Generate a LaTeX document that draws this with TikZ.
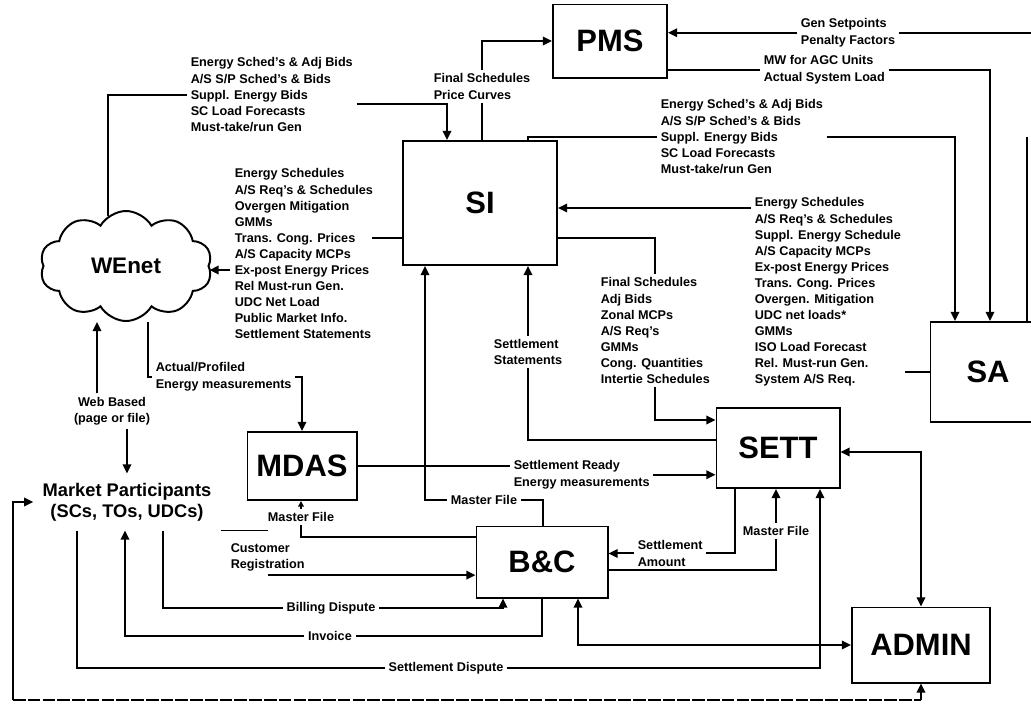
\documentclass[tikz,border=0pt]{standalone}
\usepackage{fontspec}
\setmainfont{Liberation Sans}
\usetikzlibrary{arrows.meta,shapes.symbols}

\begin{document}
\begin{tikzpicture}[x=0.025cm,y=-0.025cm,line width=1.4pt,>={Triangle[length=6.5pt,width=6pt]},
  blk/.style={draw,font=\fontsize{22}{24}\selectfont\bfseries},
  lbl/.style={font=\fontsize{9}{11.4}\selectfont\bfseries,align=left,inner sep=2pt},
  lblc/.style={lbl,align=center}]
\useasboundingbox (0,0) rectangle (1031,719);
% systems
\node[blk,minimum width=2.85cm,minimum height=1.825cm] (PMS) at (610,41) {PMS};
\node[blk,minimum width=3.85cm,minimum height=3.1cm] (SI) at (480,203) {SI};
\node[blk,minimum width=2.875cm,minimum height=2.5cm] (SA) at (988,372) {SA};
\node[blk,minimum width=3.075cm,minimum height=2cm] (SETT) at (778,448) {SETT};
\node[blk,minimum width=2.725cm,minimum height=1.7cm] (MDAS) at (302,466) {MDAS};
\node[blk,minimum width=3.275cm,minimum height=1.775cm] (BC) at (542,562) {B\&C};
\node[blk,minimum width=3.45cm,minimum height=1.875cm] (ADMIN) at (921,645) {ADMIN};
\node[draw,cloud,cloud puffs=10,cloud puff arc=120,aspect=1.6,minimum width=4.3cm,minimum height=2.75cm,
  font=\fontsize{16}{18}\selectfont\bfseries] (WEnet) at (126,266) {WEnet};
\node[font=\fontsize{13}{15}\selectfont\bfseries,align=center,inner sep=6pt] (MP) at (127,502)
  {Market Participants\\(SCs, TOs, UDCs)};

% WEnet -> SI
\node[lbl,anchor=north west] (wsched) at (187,54) {Energy Sched's \& Adj Bids\\A/S S/P Sched's \& Bids\\Suppl. Energy Bids\\SC Load Forecasts\\Must-take/run Gen};
\coordinate (siin) at (447,104);
\draw (WEnet.110) |- (wsched.west);
\draw[->] (wsched.east |- siin) -- (siin) -- (siin |- SI.north);

% SI -> PMS
\node[lbl,anchor=north west] (fsp) at (430,70) {Final Schedules\\Price Curves};
\draw (SI.north -| fsp.south) -- (fsp.south);
\draw[->] (fsp.north) |- (PMS.west);

% EMS side (cut off at the right edge)
\coordinate (ems) at (1031,33);
\coordinate (emsS) at (1027,137);
\node[lbl,anchor=north west] (gsp) at (797,15) {Gen Setpoints\\Penalty Factors};
\draw (gsp.east) -- (gsp.east -| ems);
\draw[->] (gsp.west) -- (gsp.west -| PMS.east);
\draw (emsS) -- (emsS |- SA.north);

% PMS -> SA
\node[lbl,anchor=north west] (mwagc) at (760,52) {MW for AGC Units\\Actual System Load};
\draw (PMS.east |- mwagc.west) -- (mwagc.west);
\draw[->] (mwagc.east) -| (990,0 |- SA.north);

% SI -> SA
\node[lbl,anchor=north west] (sched2) at (657,96) {Energy Sched's \& Adj Bids\\A/S S/P Sched's \& Bids\\Suppl. Energy Bids\\SC Load Forecasts\\Must-take/run Gen};
\draw (528,0 |- SI.north) |- (sched2.west);
\draw[->] (sched2.east) -| (955,0 |- SA.north);

% SA -> SI
\node[lbl,anchor=north west] (sched3) at (751,194) {Energy Schedules\\A/S Req's \& Schedules\\Suppl. Energy Schedule\\A/S Capacity MCPs\\Ex-post Energy Prices\\Trans. Cong. Prices\\Overgen. Mitigation\\UDC net loads*\\GMMs\\ISO Load Forecast\\Rel. Must-run Gen.\\System A/S Req.};
\coordinate (s3in) at ([yshift=-0.35cm]sched3.north west);
\draw[->] (s3in) -- (s3in -| SI.east);
\draw (SA.west) -- (SA.west -| sched3.east);

% SI -> WEnet
\node[lbl,anchor=north west] (pub) at (231,165) {Energy Schedules\\A/S Req's \& Schedules\\Overgen Mitigation\\GMMs\\Trans. Cong. Prices\\A/S Capacity MCPs\\Ex-post Energy Prices\\Rel Must-run Gen.\\UDC Net Load\\Public Market Info.\\Settlement Statements};
\coordinate (pubin) at (372,238);
\coordinate (pubout) at (230,270);
\draw (SI.west |- pubin) -- (pubin);
\draw[->] (pubout) -- (pubout -| WEnet.east);

% WEnet <-> market participants
\node[lblc] (web) at (112,411) {Web Based\\(page or file)};
\draw[->] (97,0 |- web.north) -- (WEnet.south -| 97,0);
\draw[->] (web.south -| MP.north) -- (MP.north);

% WEnet -> MDAS
\node[lbl,anchor=north west] (actp) at (152,359) {Actual/Profiled\\Energy measurements};
\draw (WEnet.south -| 148,0) |- (actp.west);
\draw[->] (actp.east) -| (MDAS.north);

% MDAS -> SETT
\node[lbl,anchor=north west] (srdy) at (510,457) {Settlement Ready\\Energy measurements};
\draw (MDAS.east) -- (MDAS.east -| srdy.west);
\draw[->] (srdy.east) -- (srdy.east -| SETT.west);

% SETT -> SI
\node[lbl] (sstm) at (528,352) {Settlement\\Statements};
\draw[->] (sstm.north) -- (sstm.north |- SI.south);
\coordinate (sst) at ([yshift=0.2cm]SETT.west);
\draw (sst) -| (sstm.south);

% SI -> SETT
\node[lbl,anchor=north west] (fsch) at (597,274) {Final Schedules\\Adj Bids\\Zonal MCPs\\A/S Req's\\GMMs\\Cong. Quantities\\Intertie Schedules};
\coordinate (sio) at ([yshift=-0.875cm]SI.east);
\draw (sio) -| (fsch.north);
\coordinate (sett1) at ([yshift=0.7cm]SETT.west);
\draw[->] (fsch.south) |- (sett1);

% SETT <-> ADMIN
\draw[<->] ([yshift=-0.1cm]SETT.east) -| (ADMIN.north);

% SETT <-> B&C
\node[lbl,anchor=north west] (samt) at (634,537) {Settlement\\Amount};
\draw (735,0 |- SETT.south) |- (samt.east);
\draw[->] (samt.west) -- (samt.west -| BC.east);
\node[lblc] (mf3) at (776,531) {Master File};
\coordinate (bco) at ([yshift=-0.2cm]BC.east);
\draw (bco) -| (mf3.south);
\draw[->] (mf3.north) -- (mf3.north |- SETT.south);

% B&C -> MDAS, B&C -> SI
\node[lblc] (mf1) at (301,517) {Master File};
\coordinate (bcw) at ([yshift=0.625cm]BC.west);
\draw (bcw) -| (mf1.south);
\draw[-{Triangle[length=4pt,width=4pt]}] (mf1.north) -- (mf1.north |- MDAS.south);
\node[lblc] (mf2) at (484,500) {Master File};
\draw (543,0 |- BC.north) |- (mf2.east);
\draw[->] (mf2.west) -| (425,0 |- SI.south);

% market participants <-> B&C, SETT, ADMIN
\node[lbl,anchor=north west] (cust) at (227,540) {Customer\\Registration};
\draw (MP.south east) -- (MP.south east -| cust.north);
\draw[->] (cust.south) -- (cust.south -| BC.west);
\node[lblc] (bill) at (331,608) {Billing Dispute};
\draw (163,0 |- MP.south) |- (bill.west);
\draw[->] (bill.east) -| (503,0 |- BC.south);
\node[lblc] (inv) at (330,636) {Invoice};
\draw[->] (inv.west) -| (125,0 |- MP.south);
\draw (542,0 |- BC.south) |- (inv.east);
\node[lblc] (sdis) at (446,668) {Settlement Dispute};
\draw (77,0 |- MP.south) |- (sdis.west);
\draw[->] (sdis.east) -| (820,0 |- SETT.south);
\draw[<->] (578,0 |- BC.south) |- (ADMIN.west);

% ADMIN <-> market participants along the bottom
\coordinate (botL) at (13,700);
\coordinate (botR) at (ADMIN.south |- botL);
\draw[->] (botL) |- (MP.west);
\draw[->] (botR) -- (ADMIN.south);
\draw[line width=1pt,dash pattern=on 9pt off 1.5pt] (botL) -- (botR);
\end{tikzpicture}
\end{document}
